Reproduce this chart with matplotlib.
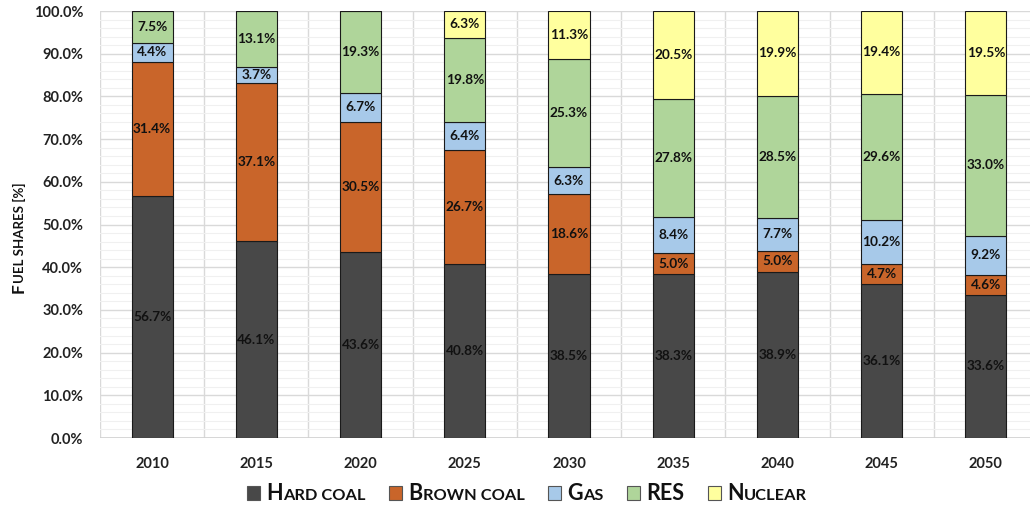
import matplotlib
matplotlib.use("Agg")
import matplotlib.pyplot as plt
import numpy as np
from matplotlib.patches import Rectangle
from matplotlib.offsetbox import TextArea, HPacker, DrawingArea, AnchoredOffsetbox
from matplotlib.ticker import MultipleLocator, FuncFormatter

plt.rcParams['font.family'] = ['Lato', 'DejaVu Sans']

years = ['2010', '2015', '2020', '2025', '2030', '2035', '2040', '2045', '2050']
hard_coal = [56.7, 46.1, 43.6, 40.8, 38.5, 38.3, 38.9, 36.1, 33.6]
brown_coal = [31.4, 37.1, 30.5, 26.7, 18.6, 5.0, 5.0, 4.7, 4.6]
gas = [4.4, 3.7, 6.7, 6.4, 6.3, 8.4, 7.7, 10.2, 9.2]
res = [7.5, 13.1, 19.3, 19.8, 25.3, 27.8, 28.5, 29.6, 33.0]
nuclear = [0.0, 0.0, 0.0, 6.3, 11.3, 20.5, 19.9, 19.4, 19.5]

series = [
    (('H', 'ARD COAL'), hard_coal, '#484848'),
    (('B', 'ROWN COAL'), brown_coal, '#C9652A'),
    (('G', 'AS'), gas, '#A7C9E9'),
    (('RES', ''), res, '#AFD59A'),
    (('N', 'UCLEAR'), nuclear, '#FFFF9E'),
]

W, H = 1030, 509
fig = plt.figure(figsize=(W / 100, H / 100), dpi=100)
ax = fig.add_axes([100 / W, (H - 438) / H, 938 / W, 427 / H])

x = np.arange(len(years))
bottom = np.zeros(len(years))
for (label, vals, color) in series:
    vals = np.array(vals)
    ax.bar(x, vals, width=0.395, bottom=bottom, color=color,
           edgecolor='#1a1a1a', linewidth=0.8, zorder=3)
    for xi, b, v in zip(x, bottom, vals):
        if v > 0:
            ax.text(xi, b + v / 2, f'{v:.1f}%', ha='center', va='center',
                    fontsize=9.8, fontweight='bold', color='#111111', zorder=4)
    bottom += vals

ax.set_xlim(-0.5, 8.5)
ax.set_ylim(0, 100)
ax.set_xticks(x)
ax.set_xticklabels(years, fontsize=10.5, fontweight='bold')
ax.yaxis.set_major_locator(MultipleLocator(10))
ax.yaxis.set_minor_locator(MultipleLocator(2))
ax.yaxis.set_major_formatter(FuncFormatter(lambda v, p: f'{v:.1f}%'))
for t in ax.get_yticklabels():
    t.set_fontsize(10.5)
    t.set_fontweight('bold')
ax.tick_params(axis='both', which='both', length=0, colors='#222222')
ax.tick_params(axis='x', pad=14)
ax.tick_params(axis='y', pad=12)

ax.grid(axis='y', which='major', color='#d9d9d9', linewidth=1.0, zorder=0)
ax.grid(axis='y', which='minor', color='#f0f0f0', linewidth=0.8, zorder=0)
for b in np.arange(-0.5, 9.0, 1.0):
    ax.axvline(b, color='#d9d9d9', linewidth=1.0, zorder=0)
for s in ax.spines.values():
    s.set_visible(False)
ax.axhline(0, color='#d0d0d0', linewidth=1.2, zorder=1)

# Legend built from packed text pieces to imitate small caps
sq = 9.4
entries = []
for (label, vals, color) in series:
    da = DrawingArea(sq, sq, 0, 0)
    da.add_artist(Rectangle((0, 0), sq, sq, facecolor=color, edgecolor='#555555', linewidth=0.8))
    parts = [TextArea(label[0], textprops=dict(fontsize=15.5, fontweight='bold', color='#111111'))]
    if label[1]:
        parts.append(TextArea(label[1], textprops=dict(fontsize=11.8, fontweight='bold', color='#111111')))
    word = HPacker(children=parts, align='baseline', pad=0, sep=0)
    entries.append(HPacker(children=[da, word], align='baseline', pad=0, sep=4.5))
legend_box = HPacker(children=entries, align='baseline', pad=0, sep=17)
anch = AnchoredOffsetbox(loc='center', child=legend_box, frameon=False, pad=0,
                         bbox_to_anchor=(527 / W, (H - 493) / H),
                         bbox_transform=fig.transFigure, borderpad=0)
fig.add_artist(anch)

# Y-axis title in small caps: large initial plus smaller remainder
base_x = 24 / W
t1 = fig.text(base_x, 0.5, 'F', rotation=90, rotation_mode='anchor', ha='left', va='baseline',
              fontsize=12.5, fontweight='bold', color='#111111')
t2 = fig.text(base_x, 0.5, 'UEL SHARES [%]', rotation=90, rotation_mode='anchor', ha='left',
              va='baseline', fontsize=9.5, fontweight='bold', color='#111111')
fig.canvas.draw()
r = fig.canvas.get_renderer()
h1 = t1.get_window_extent(r).height
h2 = t2.get_window_extent(r).height
center = H - 238
start = center - (h1 + h2) / 2
t1.set_position((base_x, start / H))
t2.set_position((base_x, (start + h1) / H))

fig.savefig('out.png', dpi=100)
